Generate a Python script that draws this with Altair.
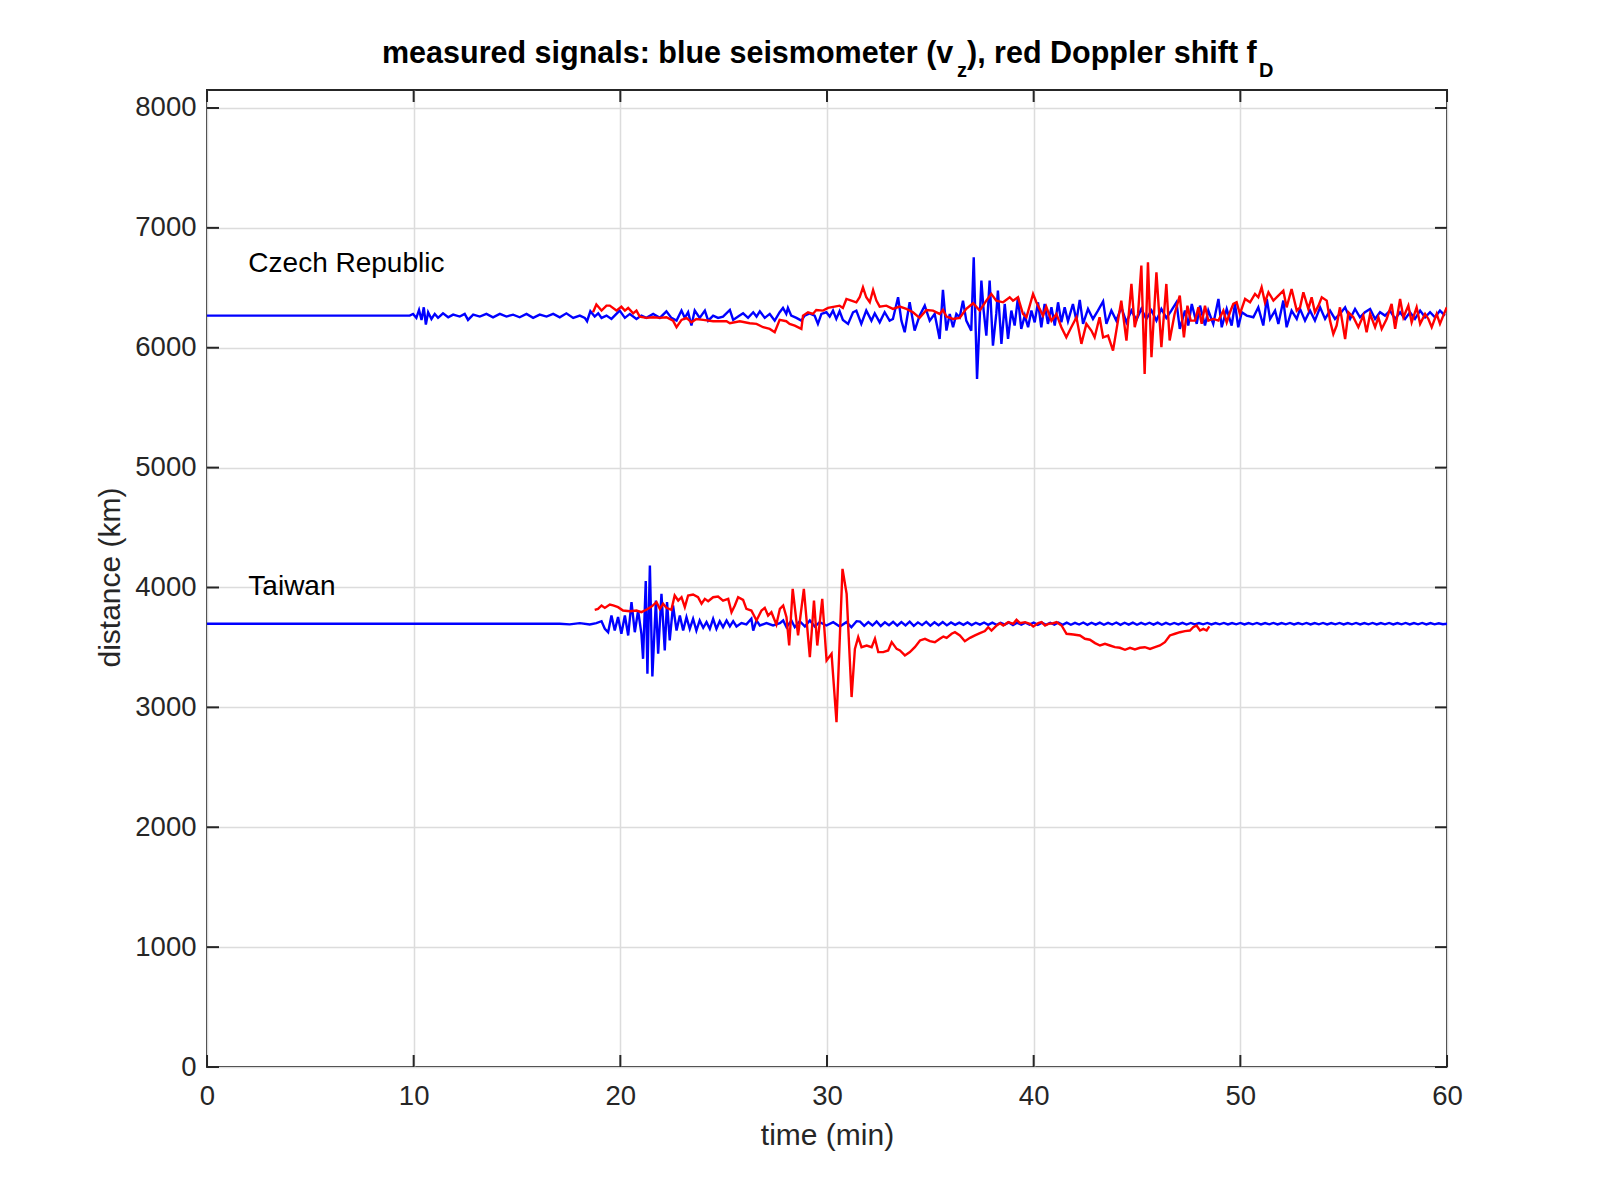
import altair as alt
import pandas as pd

FONT = "Liberation Sans"

# ---------------- data (time in min, distance-scaled signal in km) ----------------
CZ_BLUE_T = [
    0, 9.81, 9.97, 10.13, 10.26, 10.38, 10.49, 10.59, 10.70, 10.86,
    11.02, 11.18, 11.42, 11.67, 11.91, 12.23, 12.47, 12.63, 12.88, 13.20,
    13.52, 13.84, 14.17, 14.49, 14.81, 15.13, 15.46, 15.78, 16.10, 16.43,
    16.75, 17.07, 17.39, 17.72, 18.04, 18.28, 18.39, 18.55, 18.76, 18.93,
    19.09, 19.33, 19.57, 19.81, 19.97, 20.22, 20.46, 20.78, 21.02, 21.26,
    21.59, 21.91, 22.23, 22.47, 22.72, 22.96, 23.12, 23.28, 23.44, 23.60,
    23.84, 24.09, 24.25, 24.49, 24.73, 24.97, 25.30, 25.46, 25.70, 25.94,
    26.18, 26.43, 26.59, 26.75, 26.99, 27.23, 27.47, 27.71, 27.87, 28.03,
    28.11, 28.27, 28.52, 28.76, 28.92, 29.16, 29.40, 29.56, 29.73, 29.97,
    30.13, 30.29, 30.45, 30.61, 30.77, 31.02, 31.26, 31.42, 31.66, 31.90,
    32.15, 32.31, 32.55, 32.79, 33.03, 33.19, 33.44, 33.60, 33.76, 34.00,
    34.24, 34.48, 34.73, 34.97, 35.21, 35.45, 35.61, 35.78, 35.94, 36.10,
    36.26, 36.42, 36.58, 36.74, 36.98, 37.10, 37.26, 37.47, 37.58, 37.71,
    37.87, 38.03, 38.19, 38.27, 38.44, 38.60, 38.76, 38.92, 39.08, 39.24,
    39.40, 39.57, 39.73, 39.89, 40.05, 40.21, 40.37, 40.53, 40.69, 40.86,
    41.02, 41.18, 41.34, 41.50, 41.66, 41.90, 42.07, 42.23, 42.39, 42.63,
    42.87, 43.11, 43.36, 43.52, 43.76, 44.00, 44.24, 44.49, 44.73, 44.97,
    45.21, 45.45, 45.70, 45.94, 46.18, 46.42, 46.66, 46.91, 47.07, 47.32,
    47.48, 47.65, 47.89, 48.05, 48.29, 48.45, 48.69, 48.94, 49.10, 49.34,
    49.58, 49.74, 49.90, 50.07, 50.31, 50.63, 50.87, 51.11, 51.28, 51.44,
    51.68, 51.84, 52.08, 52.24, 52.48, 52.73, 52.89, 53.13, 53.37, 53.61,
    53.86, 54.10, 54.34, 54.58, 54.82, 55.07, 55.31, 55.55, 55.79, 56.03,
    56.28, 56.52, 56.76, 57.00, 57.24, 57.49, 57.73, 57.97, 58.21, 58.45,
    58.70, 58.94, 59.18, 59.42, 59.66, 59.90,
]
CZ_BLUE_KM = [
    6268, 6268, 6282, 6249, 6315, 6232, 6337, 6193, 6296, 6240,
    6282, 6249, 6287, 6254, 6276, 6260, 6282, 6232, 6276, 6260,
    6282, 6254, 6282, 6260, 6276, 6254, 6282, 6249, 6276, 6260,
    6282, 6254, 6287, 6249, 6268, 6249, 6221, 6304, 6260, 6287,
    6249, 6268, 6240, 6282, 6310, 6249, 6282, 6240, 6268, 6249,
    6282, 6249, 6304, 6249, 6226, 6310, 6249, 6296, 6185, 6310,
    6249, 6310, 6226, 6268, 6249, 6260, 6315, 6232, 6260, 6287,
    6249, 6296, 6260, 6304, 6249, 6282, 6226, 6296, 6332, 6282,
    6332, 6268, 6249, 6226, 6268, 6287, 6268, 6199, 6282, 6296,
    6260, 6310, 6240, 6304, 6232, 6199, 6296, 6310, 6199, 6310,
    6226, 6287, 6212, 6296, 6226, 6240, 6421, 6226, 6129, 6379,
    6143, 6268, 6351, 6226, 6282, 6073, 6482, 6143, 6282, 6171,
    6282, 6254, 6393, 6226, 6143, 6754, 5740, 6560, 6310, 6101,
    6560, 6018, 6282, 6476, 6032, 6365, 6073, 6310, 6185, 6421,
    6157, 6268, 6171, 6310, 6212, 6379, 6171, 6365, 6199, 6337,
    6185, 6379, 6212, 6337, 6221, 6365, 6226, 6399, 6199, 6324,
    6240, 6310, 6387, 6199, 6310, 6226, 6337, 6212, 6310, 6232,
    6324, 6240, 6310, 6226, 6324, 6249, 6310, 6379, 6157, 6310,
    6185, 6365, 6199, 6351, 6185, 6310, 6199, 6407, 6171, 6324,
    6185, 6365, 6171, 6296, 6268, 6254, 6337, 6185, 6407, 6240,
    6310, 6199, 6393, 6171, 6310, 6240, 6324, 6226, 6310, 6226,
    6337, 6240, 6310, 6240, 6282, 6337, 6240, 6324, 6254, 6296,
    6324, 6240, 6296, 6268, 6310, 6240, 6296, 6240, 6296, 6240,
    6310, 6254, 6296, 6254, 6310, 6268,
]

CZ_RED_T = [
    18.68, 18.84, 19.09, 19.33, 19.49, 19.81, 20.05, 20.22, 20.38, 20.62,
    20.78, 20.94, 21.26, 21.59, 21.91, 22.23, 22.55, 22.72, 22.96, 23.20,
    23.44, 23.68, 24.01, 24.49, 25.14, 25.30, 25.78, 26.26, 26.59, 26.91,
    27.23, 27.47, 27.71, 28.03, 28.19, 28.44, 28.76, 28.84, 29.08, 29.32,
    29.48, 29.81, 30.05, 30.37, 30.61, 30.77, 30.94, 31.18, 31.42, 31.58,
    31.74, 31.90, 32.07, 32.23, 32.39, 32.55, 32.87, 33.19, 33.52, 33.84,
    34.16, 34.48, 34.81, 35.13, 35.45, 35.61, 35.78, 36.10, 36.42, 36.74,
    37.07, 37.39, 37.71, 37.95, 38.19, 38.52, 38.84, 39.00, 39.24, 39.48,
    39.65, 39.97, 40.13, 40.45, 40.61, 40.86, 41.10, 41.34, 41.58, 41.82,
    42.07, 42.31, 42.55, 42.79, 42.95, 43.19, 43.36, 43.60, 43.84, 44.00,
    44.24, 44.49, 44.73, 44.89, 45.05, 45.21, 45.37, 45.53, 45.70, 45.94,
    46.18, 46.42, 46.58, 46.82, 47.07, 47.27, 47.44, 47.60, 47.81, 47.97,
    48.13, 48.29, 48.45, 48.69, 48.94, 49.18, 49.34, 49.50, 49.66, 49.82,
    49.98, 50.23, 50.47, 50.71, 50.87, 51.03, 51.19, 51.36, 51.60, 51.84,
    52.08, 52.24, 52.48, 52.73, 52.89, 53.05, 53.29, 53.45, 53.61, 53.78,
    53.94, 54.18, 54.34, 54.50, 54.66, 54.82, 55.07, 55.23, 55.47, 55.71,
    55.95, 56.11, 56.28, 56.52, 56.68, 56.84, 57.08, 57.32, 57.49, 57.73,
    57.89, 58.13, 58.29, 58.53, 58.70, 58.94, 59.10, 59.26, 59.50, 59.66,
    59.82, 59.99,
]
CZ_RED_KM = [
    6296, 6360, 6310, 6351, 6351, 6310, 6343, 6310, 6332, 6287,
    6310, 6260, 6249, 6254, 6249, 6254, 6226, 6171, 6232, 6249,
    6212, 6240, 6232, 6221, 6221, 6204, 6221, 6204, 6199, 6171,
    6157, 6129, 6232, 6221, 6199, 6185, 6157, 6268, 6296, 6282,
    6315, 6310, 6332, 6343, 6351, 6332, 6407, 6393, 6379, 6421,
    6504, 6421, 6379, 6482, 6393, 6343, 6351, 6324, 6343, 6324,
    6296, 6249, 6315, 6310, 6282, 6315, 6260, 6240, 6249, 6324,
    6371, 6310, 6393, 6449, 6393, 6379, 6421, 6393, 6421, 6282,
    6254, 6449, 6379, 6268, 6343, 6226, 6282, 6171, 6087, 6171,
    6254, 6032, 6199, 6143, 6087, 6254, 6087, 6101, 5976, 6143,
    6393, 6060, 6532, 6171, 6282, 6685, 5782, 6713, 5921, 6629,
    6004, 6532, 6060, 6282, 6435, 6087, 6351, 6226, 6226, 6337,
    6199, 6351, 6226, 6240, 6226, 6310, 6212, 6296, 6365, 6379,
    6282, 6407, 6379, 6449, 6421, 6504, 6379, 6463, 6393, 6435,
    6476, 6337, 6490, 6310, 6337, 6463, 6324, 6421, 6296, 6351,
    6421, 6393, 6226, 6115, 6185, 6337, 6073, 6296, 6254, 6171,
    6268, 6129, 6282, 6171, 6254, 6157, 6240, 6365, 6157, 6407,
    6254, 6351, 6212, 6337, 6199, 6282, 6240, 6171, 6282, 6199,
    6268, 6337,
]

TW_BLUE_T = [
    0, 17.07, 17.55, 18.04, 18.52, 18.84, 19.09, 19.25, 19.41, 19.57,
    19.73, 19.89, 20.05, 20.22, 20.38, 20.54, 20.70, 20.86, 21.02, 21.10,
    21.23, 21.31, 21.43, 21.55, 21.72, 21.83, 21.99, 22.15, 22.26, 22.39,
    22.55, 22.72, 22.88, 23.04, 23.20, 23.36, 23.52, 23.68, 23.84, 24.01,
    24.17, 24.33, 24.49, 24.65, 24.81, 24.97, 25.14, 25.30, 25.46, 25.62,
    25.86, 26.10, 26.34, 26.43, 26.59, 26.75, 27.07, 27.39, 27.72, 27.88,
    28.04, 28.28, 28.44, 28.68, 28.93, 29.17, 29.41, 29.65, 29.97, 30.30,
    30.62, 30.94, 31.18, 31.43,
]
TW_BLUE_KM = [
    3697, 3697, 3692, 3703, 3692, 3703, 3719, 3655, 3627, 3766,
    3641, 3753, 3614, 3766, 3600, 3878, 3627, 3808, 3614, 3405,
    4053, 3280, 4183, 3258, 3891, 3447, 3947, 3475, 3878, 3558,
    3850, 3641, 3766, 3641, 3753, 3655, 3739, 3641, 3725, 3664,
    3711, 3655, 3739, 3655, 3719, 3669, 3725, 3675, 3719, 3675,
    3703, 3692, 3739, 3641, 3725, 3683, 3703, 3683, 3703, 3725,
    3669, 3725, 3669, 3719, 3675, 3725, 3675, 3711, 3683, 3711,
    3675, 3711, 3669, 3719,
]
# quieter tail of the Taiwan seismogram, sampled every 0.2 min from 31.6 min
TW_BLUE_TAIL_START = 31.6
TW_BLUE_TAIL_STEP = 0.2
TW_BLUE_TAIL_KM = [
    3715, 3680, 3712, 3683, 3716, 3679, 3710, 3685, 3714, 3681,
    3711, 3684, 3715, 3680, 3709, 3686, 3713, 3682, 3710, 3685,
    3712, 3684, 3708, 3688, 3707, 3689, 3709, 3687, 3706, 3690,
    3708, 3688, 3707, 3689, 3706, 3690, 3709, 3687, 3707, 3689,
    3706, 3690, 3708, 3688, 3707, 3689, 3706, 3690, 3708, 3688,
    3707, 3689, 3705, 3691, 3708, 3688, 3706, 3690, 3707, 3689,
    3705, 3691, 3708, 3688, 3706, 3690, 3707, 3689, 3705, 3691,
    3706, 3690, 3707, 3689, 3705, 3691, 3704, 3692, 3705, 3691,
    3704, 3692, 3703, 3693, 3704, 3692, 3703, 3693, 3704, 3692,
    3703, 3693, 3704, 3692, 3703, 3693, 3704, 3692, 3703, 3693,
    3704, 3692, 3703, 3693, 3704, 3692, 3703, 3693, 3704, 3692,
    3703, 3693, 3704, 3692, 3703, 3693, 3704, 3692, 3703, 3693,
    3704, 3692, 3703, 3693, 3704, 3692, 3703, 3693, 3704, 3692,
    3703, 3693, 3704, 3692, 3703, 3693, 3704, 3692, 3703, 3693,
    3702, 3694, 3698,
]

TW_RED_T = [
    18.76, 18.92, 19.09, 19.25, 19.49, 19.65, 19.89, 20.13, 20.46, 20.78,
    21.02, 21.26, 21.51, 21.75, 21.91, 22.07, 22.23, 22.47, 22.63, 22.80,
    22.96, 23.12, 23.28, 23.52, 23.76, 23.93, 24.09, 24.25, 24.49, 24.73,
    24.97, 25.22, 25.38, 25.54, 25.70, 25.94, 26.10, 26.34, 26.59, 26.83,
    26.99, 27.15, 27.31, 27.55, 27.72, 27.88, 28.04, 28.17, 28.34, 28.60,
    28.88, 29.17, 29.37, 29.53, 29.77, 29.98, 30.22, 30.46, 30.75, 30.95,
    31.19, 31.35, 31.51, 31.67, 31.92, 32.16, 32.32, 32.48, 32.72, 32.96,
    33.13, 33.37, 33.53, 33.77, 34.01, 34.25, 34.50, 34.74, 34.98, 35.22,
    35.46, 35.63, 35.79, 36.03, 36.19, 36.43, 36.67, 36.92, 37.16, 37.40,
    37.64, 37.80, 37.96, 38.21, 38.37, 38.53, 38.77, 39.01, 39.17, 39.34,
    39.58, 39.82, 39.98, 40.22, 40.38, 40.55, 40.71, 40.95, 41.11, 41.35,
    41.59, 41.92, 42.24, 42.48, 42.72, 42.97, 43.21, 43.45, 43.69, 43.93,
    44.17, 44.42, 44.66, 44.90, 45.14, 45.38, 45.63, 45.87, 46.11, 46.35,
    46.59, 46.84, 47.08, 47.32, 47.56, 47.72, 47.88, 48.05, 48.21, 48.37,
    48.50,
]
TW_RED_KM = [
    3814, 3822, 3850, 3830, 3858, 3850, 3836, 3808, 3802, 3808,
    3794, 3814, 3841, 3878, 3822, 3864, 3830, 3814, 3933, 3891,
    3919, 3836, 3933, 3941, 3919, 3864, 3905, 3886, 3919, 3925,
    3891, 3905, 3794, 3850, 3919, 3897, 3822, 3808, 3725, 3808,
    3830, 3766, 3794, 3692, 3822, 3850, 3753, 3516, 3989, 3600,
    3989, 3419, 3891, 3516, 3905, 3391, 3447, 2877, 4155, 3947,
    3086, 3488, 3586, 3502, 3516, 3502, 3572, 3461, 3461, 3475,
    3544, 3488, 3475, 3433, 3461, 3502, 3558, 3572, 3552, 3544,
    3572, 3591, 3580, 3614, 3627, 3600, 3552, 3580, 3600, 3619,
    3636, 3669, 3641, 3683, 3702, 3683, 3711, 3697, 3730, 3702,
    3711, 3697, 3675, 3702, 3711, 3683, 3697, 3702, 3711, 3683,
    3614, 3608, 3600, 3572, 3564, 3536, 3516, 3530, 3516, 3502,
    3497, 3480, 3497, 3483, 3497, 3502, 3488, 3502, 3516, 3544,
    3600, 3614, 3627, 3636, 3641, 3669, 3683, 3641, 3655, 3641,
    3675,
]

STATION_NAMES = ["Czech Republic", "Taiwan"]
STATION_LABEL_T = [2, 2]
STATION_LABEL_KM = [6700, 4000]

X_TICKS = [0, 10, 20, 30, 40, 50, 60]
Y_TICKS = [0, 1000, 2000, 3000, 4000, 5000, 6000, 7000, 8000]

TITLE_MAIN = "measured signals: blue seismometer (v"
TITLE_SUB1 = "z"
TITLE_MID = "), red Doppler shift f"
TITLE_SUB2 = "D"

# ---------------- layout ----------------
W, H = 1240, 977
TICK_LEN = 12
AXIS_COLOR = "#262626"
LINE_W = 2.4

tw_tail_t = [round(TW_BLUE_TAIL_START + TW_BLUE_TAIL_STEP * i, 2) for i in range(len(TW_BLUE_TAIL_KM))]

blue_df = pd.concat([
    pd.DataFrame({"t": CZ_BLUE_T, "km": CZ_BLUE_KM, "station": "Czech Republic"}),
    pd.DataFrame({"t": TW_BLUE_T + tw_tail_t, "km": TW_BLUE_KM + TW_BLUE_TAIL_KM, "station": "Taiwan"}),
], ignore_index=True)
red_df = pd.concat([
    pd.DataFrame({"t": CZ_RED_T, "km": CZ_RED_KM, "station": "Czech Republic"}),
    pd.DataFrame({"t": TW_RED_T, "km": TW_RED_KM, "station": "Taiwan"}),
], ignore_index=True)

xscale = alt.Scale(domain=[0, 60], nice=False, zero=False)
yscale = alt.Scale(domain=[0, 8150], nice=False, zero=False)

x_axis = alt.Axis(
    values=X_TICKS, format="d", title="time (min)", grid=True, gridColor="#dcdcdc", gridWidth=1.5,
    domain=False, ticks=False, tickSize=0, labelFont=FONT, labelFontSize=27.5,
    labelColor=AXIS_COLOR, labelPadding=29, labelBaseline="middle", labelFlush=False,
    titleFont=FONT, titleFontSize=30, titleFontWeight="normal", titleColor=AXIS_COLOR,
    titleX=W / 2, titleY=68, titleBaseline="middle", titleAnchor="middle",
)
y_axis = alt.Axis(
    values=Y_TICKS, format="d", title="distance (km)", grid=True, gridColor="#dcdcdc", gridWidth=1.5,
    domain=False, ticks=False, tickSize=0, labelFont=FONT, labelFontSize=27.5,
    labelColor=AXIS_COLOR, labelPadding=11, labelFlush=False,
    titleFont=FONT, titleFontSize=30, titleFontWeight="normal", titleColor=AXIS_COLOR,
    titleX=-97, titleY=487, titleBaseline="middle", titleAngle=270, titleAnchor="middle",
)

X = alt.X("t:Q", scale=xscale, axis=x_axis)
Y = alt.Y("km:Q", scale=yscale, axis=y_axis)

blue = alt.Chart(blue_df).mark_line(color="#0000ff", strokeWidth=LINE_W, clip=True).encode(
    x=X, y=Y, detail="station:N", order="t:Q")
red = alt.Chart(red_df).mark_line(color="#ff0000", strokeWidth=LINE_W, clip=True).encode(
    x=X, y=Y, detail="station:N", order="t:Q")

labels = alt.Chart(pd.DataFrame({"t": STATION_LABEL_T, "km": STATION_LABEL_KM, "name": STATION_NAMES})).mark_text(
    align="left", baseline="middle", font=FONT, fontSize=28, color="#000000"
).encode(x=X, y=Y, text="name:N")

xt = pd.DataFrame({"t": X_TICKS})
yt = pd.DataFrame({"km": Y_TICKS})
tick_style = dict(color=AXIS_COLOR, strokeWidth=2)
ticks_bottom = alt.Chart(xt).mark_rule(**tick_style).encode(x=X, y=alt.value(H), y2=alt.value(H - TICK_LEN))
ticks_top = alt.Chart(xt).mark_rule(**tick_style).encode(x=X, y=alt.value(0), y2=alt.value(TICK_LEN))
ticks_left = alt.Chart(yt).mark_rule(**tick_style).encode(y=Y, x=alt.value(0), x2=alt.value(TICK_LEN))
ticks_right = alt.Chart(yt).mark_rule(**tick_style).encode(y=Y, x=alt.value(W - TICK_LEN), x2=alt.value(W))

title_style = dict(font=FONT, fontWeight="bold", color="#000000", align="left", baseline="alphabetic")
one = pd.DataFrame({"k": [0]})
t_main = alt.Chart(one).mark_text(fontSize=30.5, **title_style).encode(
    x=alt.value(175), y=alt.value(-27), text=alt.value(TITLE_MAIN))
t_sub1 = alt.Chart(one).mark_text(fontSize=20, **title_style).encode(
    x=alt.value(750), y=alt.value(-13), text=alt.value(TITLE_SUB1))
t_mid = alt.Chart(one).mark_text(fontSize=30.5, **title_style).encode(
    x=alt.value(760), y=alt.value(-27), text=alt.value(TITLE_MID))
t_sub2 = alt.Chart(one).mark_text(fontSize=20, **title_style).encode(
    x=alt.value(1052), y=alt.value(-13), text=alt.value(TITLE_SUB2))

chart = alt.layer(
    blue, red, labels, ticks_bottom, ticks_top, ticks_left, ticks_right,
    t_main, t_sub1, t_mid, t_sub2,
).properties(
    width=W, height=H,
    autosize=alt.AutoSizeParams(type="none"),
    padding={"left": 199, "top": 82, "right": 140, "bottom": 120},
    background="white",
).configure_view(stroke=AXIS_COLOR, strokeWidth=2)

chart.save("out.html", embed_options={"renderer": "svg", "actions": False})
